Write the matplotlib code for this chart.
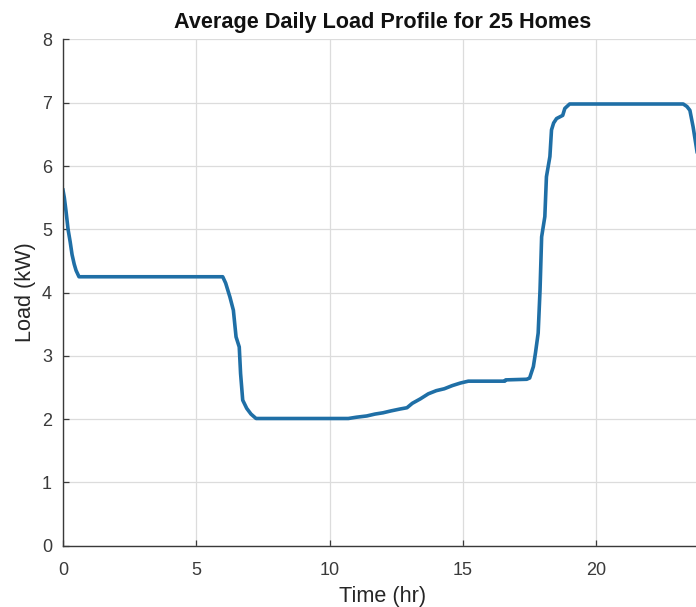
import matplotlib
matplotlib.use("Agg")
import matplotlib.pyplot as plt

# hourly-ish load profile (hours, kW) averaged over the homes
time_hr = [0.0, 0.05, 0.11, 0.19, 0.27, 0.34, 0.42, 0.49, 0.6,
           5.99, 6.1, 6.26, 6.39, 6.49, 6.61, 6.66, 6.74, 6.89, 7.05, 7.24,
           10.7, 11.0, 11.39, 11.7, 12.0, 12.3, 12.64, 12.9, 13.1, 13.4,
           13.7, 14.0, 14.3, 14.6, 14.9, 15.2, 16.57, 16.6, 17.39,
           17.5, 17.64, 17.72, 17.82, 17.89, 17.95, 18.07, 18.13, 18.26,
           18.32, 18.4, 18.51, 18.74, 18.82, 19.0,
           23.26, 23.4, 23.51, 23.63, 23.75, 24.0]
load_kw = [5.62, 5.5, 5.3, 5.0, 4.8, 4.6, 4.45, 4.35, 4.25,
           4.25, 4.15, 3.93, 3.72, 3.3, 3.14, 2.72, 2.3, 2.17, 2.08, 2.01,
           2.01, 2.03, 2.05, 2.08, 2.1, 2.13, 2.16, 2.18, 2.25, 2.32,
           2.4, 2.45, 2.48, 2.53, 2.57, 2.6, 2.6, 2.62, 2.63,
           2.65, 2.83, 3.05, 3.36, 4.04, 4.88, 5.2, 5.83, 6.15,
           6.57, 6.68, 6.75, 6.8, 6.91, 6.98,
           6.98, 6.94, 6.88, 6.62, 6.3, 5.62]

title = "Average Daily Load Profile for 25 Homes"
x_ticks = [0, 5, 10, 15, 20]
y_ticks = [0, 1, 2, 3, 4, 5, 6, 7, 8]

plt.rcParams["font.family"] = ["Liberation Sans", "DejaVu Sans"]

fig = plt.figure(figsize=(6.96, 6.07), dpi=100)
ax = fig.add_axes([0.0905, 0.101, 0.9195, 0.834])

ax.plot(time_hr, load_kw, color="#1f6fa6", linewidth=2.6, solid_joinstyle="round")

ax.set_xlim(0, 24)
ax.set_ylim(0, 8)
ax.set_xticks(x_ticks)
ax.set_yticks(y_ticks)
ax.grid(True, color="#dcdcdc", linewidth=0.9)
ax.set_axisbelow(True)

for side in ["top", "right"]:
    ax.spines[side].set_visible(False)
for side in ["left", "bottom"]:
    ax.spines[side].set_color("#3a3a3a")
    ax.spines[side].set_linewidth(1.0)

ax.tick_params(direction="in", length=4, width=0.9, color="#3a3a3a",
               labelsize=13, labelcolor="#3a3a3a")
ax.tick_params(axis="x", pad=12)
ax.tick_params(axis="y", pad=8)

ax.set_title(title, fontsize=15.6, fontweight="bold", color="#111111", pad=8)
ax.set_xlabel("Time (hr)", fontsize=15.6, color="#262626", labelpad=4.5)
ax.set_ylabel("Load (kW)", fontsize=15.6, color="#262626", labelpad=4)

fig.savefig("out.png", dpi=100)
